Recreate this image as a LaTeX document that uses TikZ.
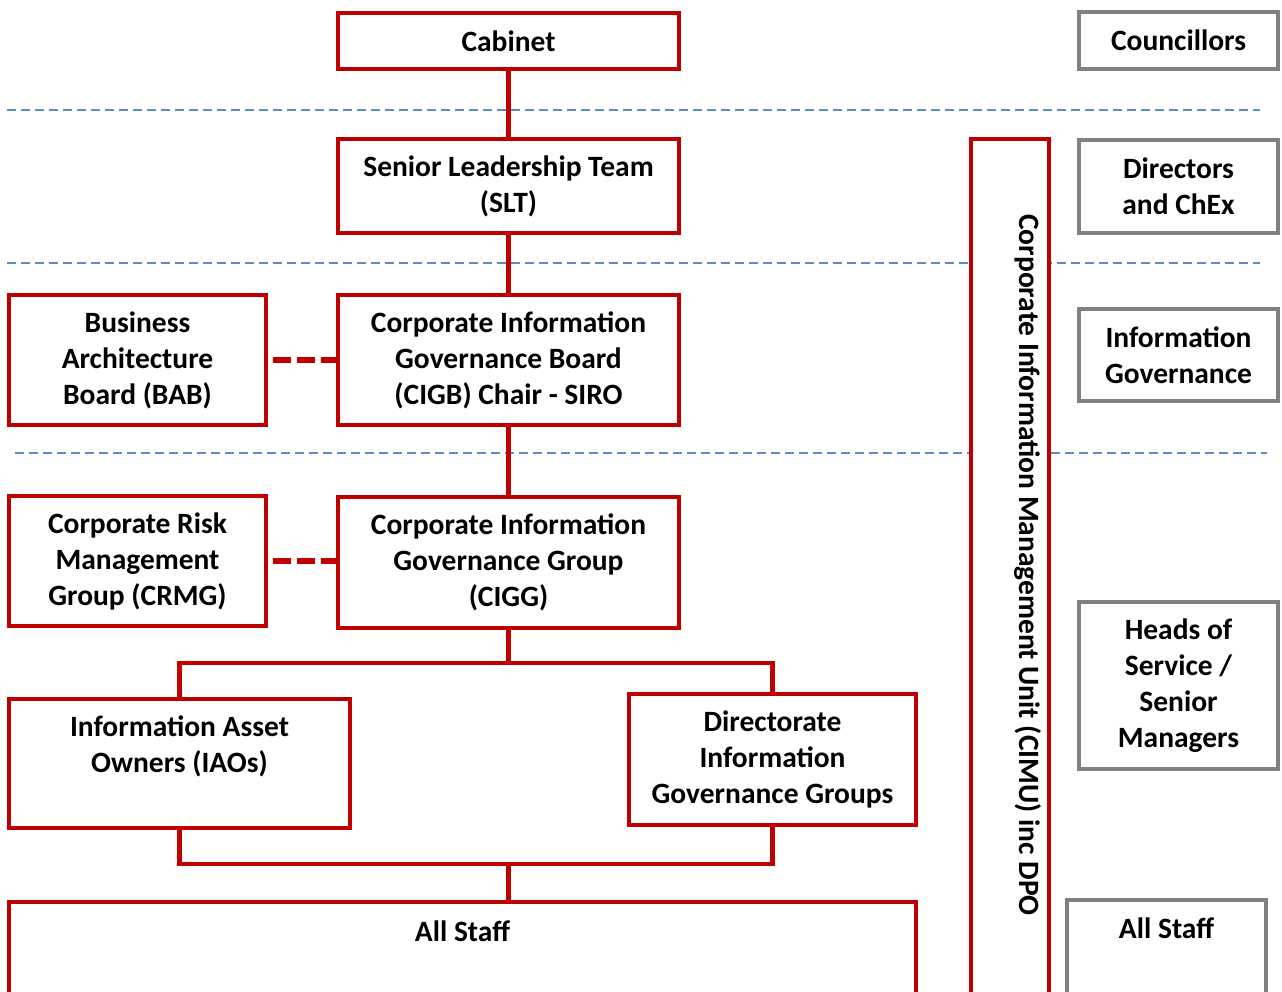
\documentclass[tikz,border=0pt]{standalone}
\usepackage{fontspec}
\setmainfont{Carlito}
\definecolor{boxred}{HTML}{C00000}
\definecolor{boxgrey}{HTML}{808080}
\definecolor{sepblue}{HTML}{5B8BD0}
\tikzset{
  base/.style={rectangle, line width=4.5pt, fill=white, align=center, inner sep=0pt,
    font=\fontsize{29.5}{36}\selectfont\bfseries},
  redbox/.style={base, draw=boxred},
  greybox/.style={base, draw=boxgrey},
  conn/.style={draw=boxred, line width=4.5pt},
  reddash/.style={draw=boxred, line width=6pt, dash pattern=on 18pt off 6pt, dash phase=-5pt},
  sep/.style={draw=sepblue, line width=2pt, dash pattern=on 9pt off 5pt},
  lbl/.style={align=center, inner sep=0pt, font=\fontsize{29.5}{36}\selectfont\bfseries}
}
% \mybox{style}{name}{x1}{y1}{x2}{y2}{text}
\newcommand{\mybox}[7]{%
  \pgfmathsetmacro{\cx}{(#3+#5)/2}\pgfmathsetmacro{\cy}{(#4+#6)/2}%
  \pgfmathsetmacro{\bw}{#5-#3}\pgfmathsetmacro{\bh}{#6-#4}%
  \node[#1, minimum width=\bw pt, minimum height=\bh pt] (#2) at (\cx,\cy) {#7};}
\begin{document}
\begin{tikzpicture}[x=1pt,y=-1pt]
\useasboundingbox (0,0) rectangle (1282,992);
\clip (0,0) rectangle (1282,992);
% separators
\coordinate (s1a) at (7,110);  \coordinate (s1b) at (1260,110);
\coordinate (s2a) at (7,263);  \coordinate (s2b) at (1260,263);
\coordinate (s3a) at (15,453); \coordinate (s3b) at (1267,453);
\draw[sep] (s1a) -- (s1b);
\draw[sep] (s2a) -- (s2b);
\draw[sep] (s3a) -- (s3b);
% junctions
\coordinate (j1) at (508.5,663);
\coordinate (j2) at (508.5,864);
% boxes
\mybox{redbox}{Cabinet}{338}{13}{679}{69}{Cabinet}
\mybox{redbox}{SLT}{338}{139}{679}{233}{Senior Leadership Team\\(SLT)}
\mybox{redbox}{BAB}{9}{295}{266}{425}{Business\\Architecture\\Board (BAB)}
\mybox{redbox}{CIGB}{338}{295}{679}{425}{Corporate Information\\Governance Board\\(CIGB) Chair - SIRO}
\mybox{redbox}{CRMG}{9}{496}{266}{626}{Corporate Risk\\Management\\Group (CRMG)}
\mybox{redbox}{CIGG}{338}{497}{679}{628}{Corporate Information\\Governance Group\\(CIGG)}
\mybox{redbox}{IAO}{9}{699}{350}{828}{}
\node[lbl] (IAOtext) at (179.5,746) {Information Asset\\Owners (IAOs)};
\mybox{redbox}{DIGG}{629}{694}{916}{825}{Directorate\\Information\\Governance Groups}
\mybox{redbox}{AllStaff}{9}{902}{916}{1010}{}
\node[lbl] (AllStafftext) at (462.5,931) {All Staff};
\mybox{redbox}{CIMU}{971}{139}{1049}{1010}{}
\node[lbl, rotate=-90] (CIMUtext) at (1028,565) {Corporate Information Management Unit (CIMU) inc DPO};
\mybox{greybox}{Councillors}{1079}{12}{1278}{69}{Councillors}
\mybox{greybox}{Directors}{1079}{140}{1278}{233}{Directors\\and ChEx}
\mybox{greybox}{InfoGov}{1079}{309}{1278}{401}{Information\\Governance}
\mybox{greybox}{Heads}{1079}{602}{1278}{769}{Heads of\\Service /\\Senior\\Managers}
\mybox{greybox}{AllStaffG}{1067}{900}{1266}{1010}{}
\node[lbl] (AllStaffGtext) at (1166.5,928) {All Staff};
% connectors
\draw[conn] (Cabinet.south) -- (SLT.north);
\draw[conn] (SLT.south) -- (CIGB.north);
\draw[conn] (CIGB.south) -- (CIGG.north);
\draw[conn] (CIGG.south) -- (j1);
\draw[conn] (j1) -| (IAO.north);
\draw[conn] (j1) -| (DIGG.north);
\draw[conn] (IAO.south) |- (j2);
\draw[conn] (DIGG.south) |- (j2);
\draw[conn] (j2) -- (j2 |- AllStaff.north);
\draw[reddash] (BAB.east) -- (CIGB.west);
\draw[reddash] (CRMG.east) -- (CIGG.west |- CRMG.east);
\end{tikzpicture}
\end{document}
